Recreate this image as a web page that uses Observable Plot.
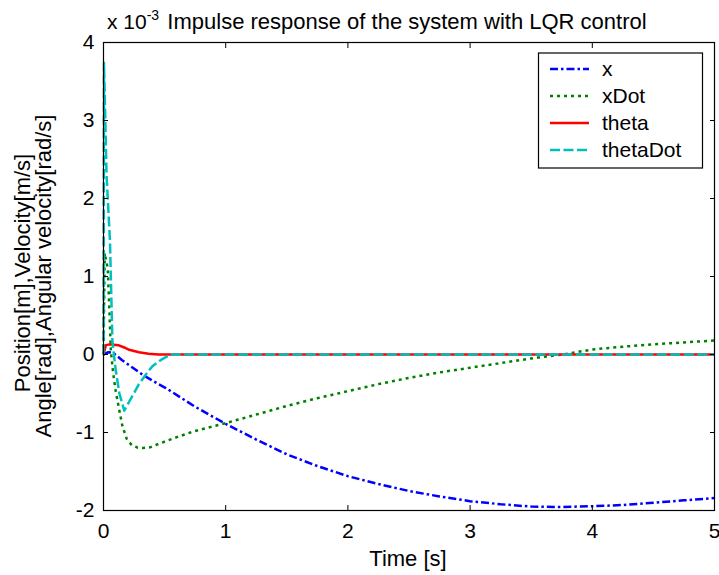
<!DOCTYPE html>
<html>
<head>
<meta charset="utf-8">
<script src="https://cdn.jsdelivr.net/npm/d3@7"></script>
<script src="https://cdn.jsdelivr.net/npm/@observablehq/plot@0.6"></script>
<style>
  html, body { margin: 0; padding: 0; background: white; }
  #chart svg { display: block; }
</style>
</head>
<body>
<div id="chart"></div>
<script>
// ---- data (values in units of 1e-3) ----
const seriesNames = ["x", "xDot", "theta", "thetaDot"];
const seriesColors = ["#0000ff", "#008000", "#ff0000", "#00bfbf"];
const seriesDash = ["8,3,2.5,3", "3,4", null, "10,3.5"];

const xTime = [0, 0.04, 0.08, 0.15, 0.24, 0.32, 0.45, 0.51, 0.75, 1.0, 1.25, 1.5, 1.75, 2.0, 2.25, 2.5, 2.75, 3.0, 3.25, 3.5, 3.75, 4.0, 4.25, 4.5, 4.75, 5.0];
const xVals = [0, 0.03, 0.02, -0.07, -0.17, -0.26, -0.38, -0.43, -0.67, -0.89, -1.09, -1.28, -1.43, -1.56, -1.66, -1.75, -1.82, -1.88, -1.92, -1.95, -1.955, -1.945, -1.93, -1.9, -1.87, -1.84];

const xDotTime = [0, 0.01, 0.035, 0.05, 0.06, 0.08, 0.1, 0.13, 0.155, 0.19, 0.23, 0.28, 0.32, 0.38, 0.46, 0.6, 0.73, 0.85, 1.0, 1.25, 1.5, 1.75, 2.0, 2.25, 2.5, 2.75, 3.0, 3.25, 3.5, 3.76, 4.0, 4.25, 4.5, 4.75, 5.0];
const xDotVals = [0, 1.3, 1.1, 0.5, 0.05, -0.25, -0.47, -0.72, -0.92, -1.08, -1.16, -1.195, -1.2, -1.19, -1.14, -1.06, -0.99, -0.94, -0.88, -0.77, -0.66, -0.56, -0.47, -0.38, -0.30, -0.23, -0.17, -0.11, -0.05, 0.0, 0.064, 0.10, 0.13, 0.155, 0.18];

const thetaTime = [0, 0.02, 0.05, 0.12, 0.17, 0.21, 0.29, 0.37, 0.45, 5.0];
const thetaVals = [0, 0.12, 0.13, 0.12, 0.09, 0.06, 0.03, 0.01, 0, 0];

const thetaDotTime = [0, 0.004, 0.025, 0.053, 0.073, 0.1, 0.13, 0.17, 0.23, 0.29, 0.35, 0.4, 0.47, 0.55, 0.7, 5.0];
const thetaDotVals = [0, 3.74, 2.3, 1.45, 0.17, -0.2, -0.5, -0.72, -0.55, -0.38, -0.25, -0.15, -0.07, 0, 0, 0];

const xTicks = [0, 1, 2, 3, 4, 5];
const yTicks = [-2, -1, 0, 1, 2, 3, 4];

const titleText = "Impulse response of the system with LQR control";
const xLabel = "Time [s]";
const yLabel1 = "Position[m],Velocity[m/s]";
const yLabel2 = "Angle[rad],Angular velocity[rad/s]";

// ---- build table ----
const times = [xTime, xDotTime, thetaTime, thetaDotTime];
const vals = [xVals, xDotVals, thetaVals, thetaDotVals];
const rows = [];
seriesNames.forEach((name, i) => {
  times[i].forEach((t, j) => rows.push({series: name, t, v: vals[i][j]}));
});

const font = "'Liberation Sans', Arial, Helvetica, sans-serif";

const lineMarks = seriesNames.map((name, i) =>
  Plot.line(rows.filter(d => d.series === name), {
    x: "t", y: "v",
    stroke: seriesColors[i],
    strokeWidth: 2.5,
    strokeDasharray: seriesDash[i] ?? undefined,
    strokeLinecap: "butt",
    curve: "linear"
  })
);

const chart = Plot.plot({
  width: 719,
  height: 575,
  marginLeft: 103,
  marginRight: 5,
  marginTop: 42,
  marginBottom: 65,
  style: {fontFamily: font, fontSize: "21px", background: "white", color: "black", overflow: "visible"},
  x: {domain: [0, 5], label: null},
  y: {domain: [-2, 4], label: null},
  marks: [
    ...lineMarks,
    Plot.frame({stroke: "black", strokeWidth: 1.2}),
    Plot.axisX({anchor: "bottom", ticks: xTicks, tickSize: -5, tickPadding: 18, label: null, tickFormat: d => String(d)}),
    Plot.axisX({anchor: "top", ticks: xTicks, tickSize: -5, tickFormat: () => "", label: null}),
    Plot.axisY({anchor: "left", ticks: yTicks, tickSize: -5, tickPadding: 14, label: null, tickFormat: d => String(d)}),
    Plot.axisY({anchor: "right", ticks: yTicks, tickSize: -5, tickFormat: () => "", label: null})
  ]
});

document.getElementById("chart").appendChild(chart);

// ---- annotations ----
const svg = d3.select(chart);
const g = svg.append("g").attr("font-family", font).attr("fill", "black");

// exponent + title
const expo = g.append("text").attr("x", 107).attr("y", 29).attr("font-size", 21).attr("text-anchor", "start");
expo.append("tspan").text("x 10");
expo.append("tspan").attr("dy", -9).attr("font-size", 14).text("-3");

g.append("text").attr("x", 407).attr("y", 29).attr("text-anchor", "middle")
  .attr("font-size", 22).text(titleText);

// x label
g.append("text").attr("x", 408).attr("y", 566).attr("text-anchor", "middle")
  .attr("font-size", 22).text(xLabel);

// y label (two lines)
g.append("text").attr("transform", "translate(30,273) rotate(-90)").attr("text-anchor", "middle")
  .attr("font-size", 22).text(yLabel1);
g.append("text").attr("transform", "translate(51,276) rotate(-90)").attr("text-anchor", "middle")
  .attr("font-size", 22).text(yLabel2);

// legend
const lg = svg.append("g").attr("font-family", font);
lg.append("rect").attr("x", 538.5).attr("y", 53).attr("width", 164).attr("height", 115)
  .attr("fill", "white").attr("stroke", "black").attr("stroke-width", 1.2);
seriesNames.forEach((name, i) => {
  const y = 69 + i * 27;
  lg.append("line").attr("x1", 550).attr("x2", 589).attr("y1", y).attr("y2", y)
    .attr("stroke", seriesColors[i]).attr("stroke-width", 2.5)
    .attr("stroke-dasharray", seriesDash[i]);
  lg.append("text").attr("x", 602).attr("y", y).attr("dy", "0.35em")
    .attr("text-anchor", "start")
    .attr("font-size", 21).attr("fill", "black").text(name);
});
</script>
</body>
</html>
